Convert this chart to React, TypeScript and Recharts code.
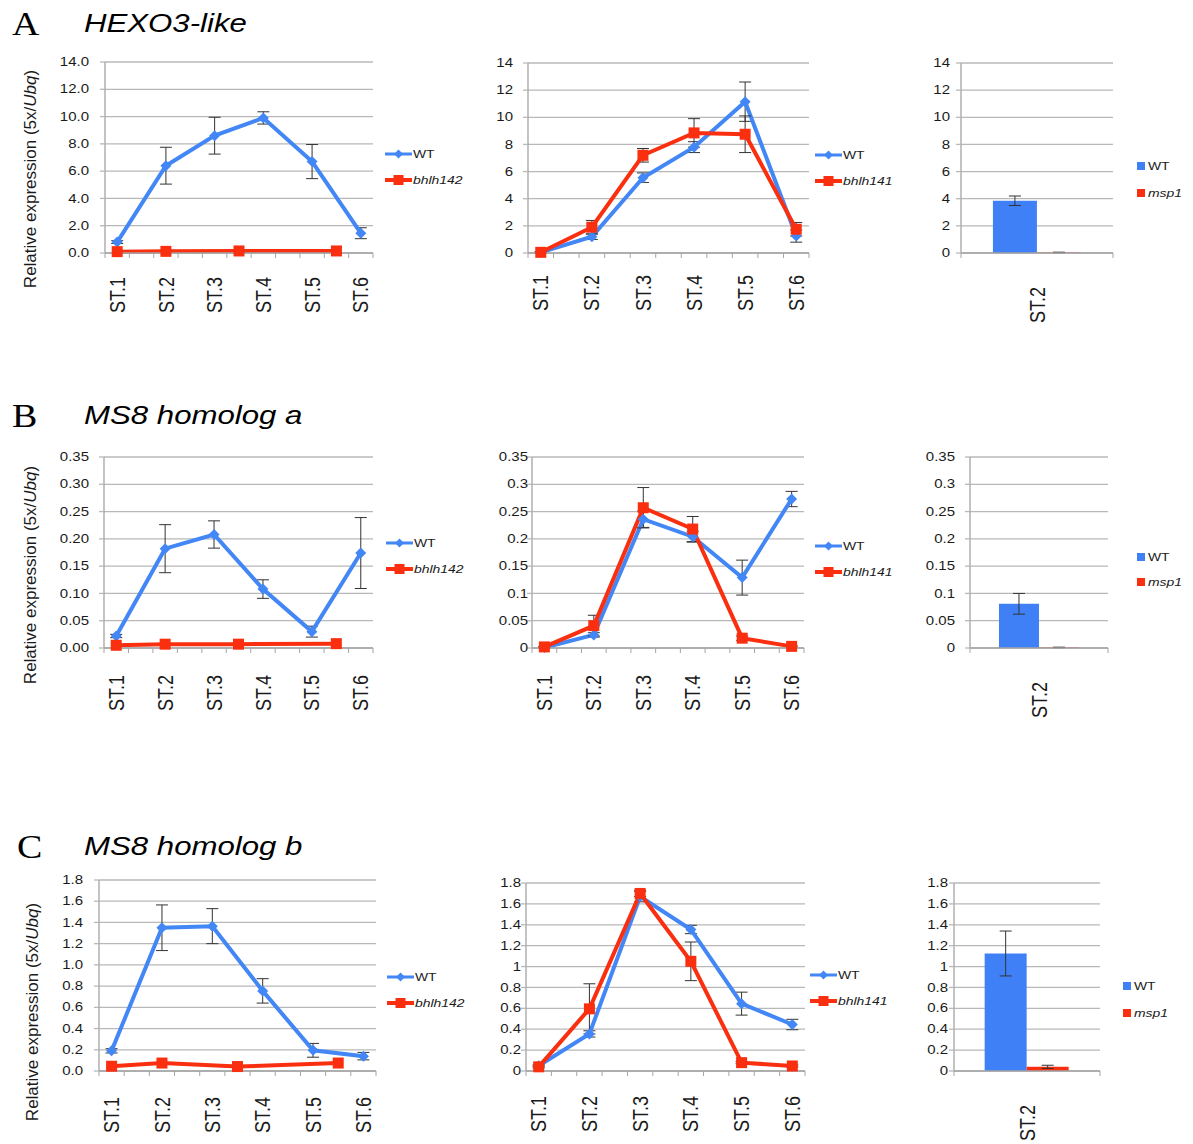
import React from "react";
import { LineChart, Line, BarChart, Bar, XAxis, YAxis, CartesianGrid, ErrorBar } from "recharts";

const FONT = "'Liberation Sans', Arial, Helvetica, sans-serif";
const BLUE = "#4287f5";
const BAR_BLUE = "#3f80f7";
const RED = "#fa2f0f";
const GRID = "#b8b8b8";
const AXIS = "#a4a4a4";
const ERR = "#333333";
const TEXT = "#1a1a1a";
const STRETCH = 1.2; // the figure is stretched sideways, text included

// Excel used an 11-slot category axis; the stage labels sit on every other slot
const stageLabels = ["ST.1", "ST.2", "ST.3", "ST.4", "ST.5", "ST.6"];
const stageSlots = [0, 2, 4, 6, 8, 10];
const bhlh142Slots = [0, 2, 5, 9];
const slotEdges = [-0.5, 0.5, 1.5, 2.5, 3.5, 4.5, 5.5, 6.5, 7.5, 8.5, 9.5, 10.5];
const barStage = ["ST.2"];

const ticks14 = [0, 2, 4, 6, 8, 10, 12, 14];
const ticks035 = [0, 0.05, 0.1, 0.15, 0.2, 0.25, 0.3, 0.35];
const ticks18 = [0, 0.2, 0.4, 0.6, 0.8, 1, 1.2, 1.4, 1.6, 1.8];

// A  HEXO3-like
const a1Wt = [0.8, 6.4, 8.6, 9.9, 6.7, 1.45];
const a1WtErr = [0.1, 1.35, 1.35, 0.45, 1.25, 0.4];
const a1Bhlh142 = [0.1, 0.12, 0.15, 0.15];
const a2Wt = [0.05, 1.2, 5.55, 7.8, 11.15, 1.25];
const a2WtErr = [0.05, 0.2, 0.35, 0.4, 1.45, 0.45];
const a2Bhlh141 = [0.05, 1.9, 7.2, 8.85, 8.75, 1.75];
const a2Bhlh141Err = [0.05, 0.5, 0.5, 1.05, 1.35, 0.5];
const a3Wt = [3.85];
const a3WtErr = [0.35];
const a3Msp1 = [0.04];
const a3Msp1Err = [0.02];

// B  MS8 homolog a
const b1Wt = [0.022, 0.182, 0.208, 0.108, 0.03, 0.174];
const b1WtErr = [0.003, 0.044, 0.025, 0.017, 0.01, 0.065];
const b1Bhlh142 = [0.005, 0.007, 0.007, 0.008];
const b2Wt = [0.001, 0.024, 0.236, 0.204, 0.129, 0.273];
const b2WtErr = [0.001, 0.004, 0.015, 0.01, 0.032, 0.014];
const b2Bhlh141 = [0.002, 0.041, 0.257, 0.218, 0.018, 0.003];
const b2Bhlh141Err = [0.001, 0.019, 0.037, 0.023, 0.004, 0.001];
const b3Wt = [0.081];
const b3WtErr = [0.019];
const b3Msp1 = [0.001];
const b3Msp1Err = [0.0005];

// C  MS8 homolog b
const c1Wt = [0.19, 1.35, 1.365, 0.755, 0.195, 0.14];
const c1WtErr = [0.02, 0.215, 0.165, 0.115, 0.065, 0.035];
const c1Bhlh142 = [0.045, 0.075, 0.042, 0.075];
const c2Wt = [0.05, 0.355, 1.67, 1.355, 0.645, 0.445];
const c2WtErr = [0.01, 0.03, 0.05, 0.04, 0.11, 0.05];
const c2Bhlh141 = [0.04, 0.595, 1.7, 1.05, 0.08, 0.048];
const c2Bhlh141Err = [0.01, 0.24, 0.03, 0.185, 0.01, 0.01];
const c3Wt = [1.125];
const c3WtErr = [0.215];
const c3Msp1 = [0.04];
const c3Msp1Err = [0.015];

interface Row { slot: number; v: number; e?: number }

function rows(slots: number[], vals: number[], errs?: number[]): Row[] {
  return slots.map((s, i) => ({ slot: s, v: vals[i], e: errs ? errs[i] : undefined }));
}

function barRows(wt: number[], wtErr: number[], mut: number[], mutErr: number[]) {
  return barStage.map((stage, i) => ({ stage, wt: wt[i], wtErr: wtErr[i], mut: mut[i], mutErr: mutErr[i] }));
}

const fixed = (n: number) => (v: number) => v.toFixed(n);
const plain = (v: number) => String(v);

const Y_W = 60;
const M_TOP = 10;
const M_R = 10;
const X_H = 90;

function YTick({ x, y, payload, fmt }: any) {
  return (
    <g transform={`translate(${x},${y}) scale(${STRETCH},1)`}>
      <text textAnchor="end" dominantBaseline="central" fontSize={12.5} fill={TEXT} fontFamily={FONT}>
        {fmt(payload.value)}
      </text>
    </g>
  );
}

function StageTick({ x, y, payload, step, drop }: any) {
  const i = stageSlots.indexOf(payload.value + 0.5);
  if (i < 0) return <g />;
  return (
    <g transform={`translate(${x + step / 2},${y + drop}) scale(${STRETCH},1) rotate(-90)`}>
      <text textAnchor="end" dominantBaseline="central" fontSize={18} fill={TEXT} fontFamily={FONT}>
        {stageLabels[i]}
      </text>
    </g>
  );
}

function BarTick({ x, y, payload, half }: any) {
  return (
    <g>
      <line x1={x - half} x2={x - half} y1={y} y2={y + 5} stroke={AXIS} />
      <line x1={x + half} x2={x + half} y1={y} y2={y + 5} stroke={AXIS} />
      <g transform={`translate(${x},${y + 34}) scale(${STRETCH},1) rotate(-90)`}>
        <text textAnchor="end" dominantBaseline="central" fontSize={18} fill={TEXT} fontFamily={FONT}>
          {payload.value}
        </text>
      </g>
    </g>
  );
}

function Diamond({ cx, cy, r = 5.5 }: any) {
  if (cx == null || cy == null) return null;
  return <polygon points={`${cx},${cy - r} ${cx + r},${cy} ${cx},${cy + r} ${cx - r},${cy}`} fill={BLUE} />;
}

function Square({ cx, cy, s = 5.5 }: any) {
  if (cx == null || cy == null) return null;
  return <rect x={cx - s} y={cy - s} width={2 * s} height={2 * s} fill={RED} />;
}

function yAxisFor(ticks: number[], fmt: (v: number) => string, gap: number) {
  return (
    <YAxis
      type="number"
      domain={[0, ticks[ticks.length - 1]]}
      ticks={ticks}
      interval={0}
      width={Y_W}
      tickSize={5}
      tickMargin={gap - 5}
      axisLine={{ stroke: AXIS, strokeWidth: 1.3 }}
      tickLine={{ stroke: GRID, strokeWidth: 1.3 }}
      tick={(p: any) => <YTick key={p.index} {...p} fmt={fmt} />}
    />
  );
}

function LinePanel({ x0, y0, w, h, ticks, fmt, gap, wt, mut, drop = 20 }: any) {
  const step = w / 11;
  return (
    <div style={{ position: "absolute", left: x0 - Y_W, top: y0 - M_TOP }}>
      <LineChart width={Y_W + w + M_R} height={M_TOP + h + X_H} margin={{ top: M_TOP, right: M_R, left: 0, bottom: 0 }}>
        <CartesianGrid vertical={false} stroke={GRID} strokeWidth={1.3} />
        <XAxis
          type="number"
          dataKey="slot"
          domain={[-0.5, 10.5]}
          ticks={slotEdges}
          interval={0}
          allowDataOverflow
          height={X_H}
          tickSize={5}
          tickMargin={0}
          axisLine={{ stroke: AXIS, strokeWidth: 1.3 }}
          tickLine={{ stroke: AXIS }}
          tick={(p: any) => <StageTick key={p.index} {...p} step={step} drop={drop} />}
        />
        {yAxisFor(ticks, fmt, gap)}
        <Line
          data={wt}
          dataKey="v"
          type="linear"
          stroke={BLUE}
          strokeWidth={4}
          dot={(p: any) => <Diamond key={p.index} cx={p.cx} cy={p.cy} />}
          activeDot={false}
          isAnimationActive={false}
        >
          <ErrorBar dataKey="e" width={6} stroke={ERR} strokeWidth={1} />
        </Line>
        <Line
          data={mut}
          dataKey="v"
          type="linear"
          stroke={RED}
          strokeWidth={4}
          dot={(p: any) => <Square key={p.index} cx={p.cx} cy={p.cy} />}
          activeDot={false}
          isAnimationActive={false}
        >
          {mut[0].e !== undefined && <ErrorBar dataKey="e" width={6} stroke={ERR} strokeWidth={1} />}
        </Line>
      </LineChart>
    </div>
  );
}

function BarPanel({ x0, y0, w, h, ticks, fmt, gap, data }: any) {
  return (
    <div style={{ position: "absolute", left: x0 - Y_W, top: y0 - M_TOP }}>
      <BarChart
        width={Y_W + w + M_R}
        height={M_TOP + h + X_H}
        margin={{ top: M_TOP, right: M_R, left: 0, bottom: 0 }}
        data={data}
        barGap={0}
        barCategoryGap="21%"
      >
        <CartesianGrid vertical={false} stroke={GRID} strokeWidth={1.3} />
        <XAxis
          dataKey="stage"
          height={X_H}
          tickSize={0}
          tickMargin={0}
          tickLine={false}
          axisLine={{ stroke: AXIS, strokeWidth: 1.3 }}
          tick={(p: any) => <BarTick key={p.index} {...p} half={w / 2} />}
        />
        {yAxisFor(ticks, fmt, gap)}
        <Bar dataKey="wt" fill={BAR_BLUE} isAnimationActive={false}>
          <ErrorBar dataKey="wtErr" width={6} stroke={ERR} strokeWidth={1} />
        </Bar>
        <Bar dataKey="mut" fill={RED} isAnimationActive={false}>
          <ErrorBar dataKey="mutErr" width={6} stroke={ERR} strokeWidth={1} />
        </Bar>
      </BarChart>
    </div>
  );
}

function LineKey({ x, y1, y2, mutName }: any) {
  return (
    <g>
      <line x1={x} x2={x + 27} y1={y1} y2={y1} stroke={BLUE} strokeWidth={3} />
      <Diamond cx={x + 13.5} cy={y1} r={4.5} />
      <text transform={`translate(${x + 28},${y1}) scale(${STRETCH},1)`} dominantBaseline="central" fontSize={11.6} fill={TEXT}>
        WT
      </text>
      <line x1={x} x2={x + 27} y1={y2} y2={y2} stroke={RED} strokeWidth={4} />
      <Square cx={x + 13.5} cy={y2} s={5} />
      <text transform={`translate(${x + 28},${y2}) scale(${STRETCH},1)`} dominantBaseline="central" fontSize={11.6} fontStyle="italic" fill={TEXT}>
        {mutName}
      </text>
    </g>
  );
}

function BarKey({ x, y1, y2 }: any) {
  return (
    <g>
      <rect x={x} y={y1 - 4} width={8} height={8} fill={BAR_BLUE} />
      <text transform={`translate(${x + 11},${y1}) scale(${STRETCH},1)`} dominantBaseline="central" fontSize={11.6} fill={TEXT}>
        WT
      </text>
      <rect x={x} y={y2 - 4} width={8} height={8} fill={RED} />
      <text transform={`translate(${x + 11},${y2}) scale(${STRETCH},1)`} dominantBaseline="central" fontSize={11.6} fontStyle="italic" fill={TEXT}>
        msp1
      </text>
    </g>
  );
}

function PanelTitle({ letter, lx, gene, baseline }: any) {
  return (
    <g>
      <text transform={`translate(${lx},${baseline + 3}) scale(1.15,1)`} fontFamily="'Liberation Serif', 'Times New Roman', serif" fontSize={33} fill="#000">
        {letter}
      </text>
      <text transform={`translate(84,${baseline}) scale(${STRETCH},1)`} fontSize={26} fontStyle="italic" fill="#000">
        {gene}
      </text>
    </g>
  );
}

function YTitle({ cx, cy }: any) {
  return (
    <text transform={`translate(${cx},${cy}) rotate(-90)`} textAnchor="middle" dominantBaseline="central" fontSize={17} fill={TEXT}>
      Relative expression (5x/<tspan fontStyle="italic">Ubq</tspan>)
    </text>
  );
}

export default function App() {
  return (
    <div style={{ position: "absolute", left: 0, top: 0, width: 1193, height: 1144, background: "#fff", fontFamily: FONT }}>
      <LinePanel x0={105} y0={62} w={268} h={191} ticks={ticks14} fmt={fixed(1)} gap={16} drop={19}
        wt={rows(stageSlots, a1Wt, a1WtErr)} mut={rows(bhlh142Slots, a1Bhlh142)} />
      <LinePanel x0={528} y0={63} w={281} h={190} ticks={ticks14} fmt={plain} gap={15} drop={17}
        wt={rows(stageSlots, a2Wt, a2WtErr)} mut={rows(stageSlots, a2Bhlh141, a2Bhlh141Err)} />
      <BarPanel x0={961} y0={63} w={152} h={190} ticks={ticks14} fmt={plain} gap={11}
        data={barRows(a3Wt, a3WtErr, a3Msp1, a3Msp1Err)} />

      <LinePanel x0={104} y0={457} w={269} h={191} ticks={ticks035} fmt={fixed(2)} gap={15} drop={22}
        wt={rows(stageSlots, b1Wt, b1WtErr)} mut={rows(bhlh142Slots, b1Bhlh142)} />
      <LinePanel x0={532} y0={457} w={272} h={191} ticks={ticks035} fmt={plain} gap={4} drop={22}
        wt={rows(stageSlots, b2Wt, b2WtErr)} mut={rows(stageSlots, b2Bhlh141, b2Bhlh141Err)} />
      <BarPanel x0={970} y0={457} w={138} h={191} ticks={ticks035} fmt={plain} gap={15}
        data={barRows(b3Wt, b3WtErr, b3Msp1, b3Msp1Err)} />

      <LinePanel x0={99} y0={880} w={277} h={191} ticks={ticks18} fmt={fixed(1)} gap={16} drop={21}
        wt={rows(stageSlots, c1Wt, c1WtErr)} mut={rows(bhlh142Slots, c1Bhlh142)} />
      <LinePanel x0={526} y0={883} w={279} h={188} ticks={ticks18} fmt={plain} gap={5} drop={20}
        wt={rows(stageSlots, c2Wt, c2WtErr)} mut={rows(stageSlots, c2Bhlh141, c2Bhlh141Err)} />
      <BarPanel x0={954} y0={883} w={146} h={188} ticks={ticks18} fmt={plain} gap={6}
        data={barRows(c3Wt, c3WtErr, c3Msp1, c3Msp1Err)} />

      <svg width={1193} height={1144} style={{ position: "absolute", left: 0, top: 0, pointerEvents: "none" }} fontFamily={FONT}>
        <PanelTitle letter="A" lx={12} gene="HEXO3-like" baseline={32} />
        <PanelTitle letter="B" lx={12} gene="MS8 homolog a" baseline={424} />
        <PanelTitle letter="C" lx={17} gene="MS8 homolog b" baseline={855} />
        <YTitle cx={30} cy={179} />
        <YTitle cx={30} cy={575} />
        <YTitle cx={32} cy={1012} />
        <LineKey x={385} y1={154} y2={180} mutName="bhlh142" />
        <LineKey x={815} y1={155} y2={181} mutName="bhlh141" />
        <BarKey x={1137} y1={166} y2={193} />
        <LineKey x={386} y1={543} y2={569} mutName="bhlh142" />
        <LineKey x={815} y1={546} y2={572} mutName="bhlh141" />
        <BarKey x={1137} y1={557} y2={582} />
        <LineKey x={387} y1={977} y2={1003} mutName="bhlh142" />
        <LineKey x={810} y1={975} y2={1001} mutName="bhlh141" />
        <BarKey x={1123} y1={986} y2={1013} />
      </svg>
    </div>
  );
}
